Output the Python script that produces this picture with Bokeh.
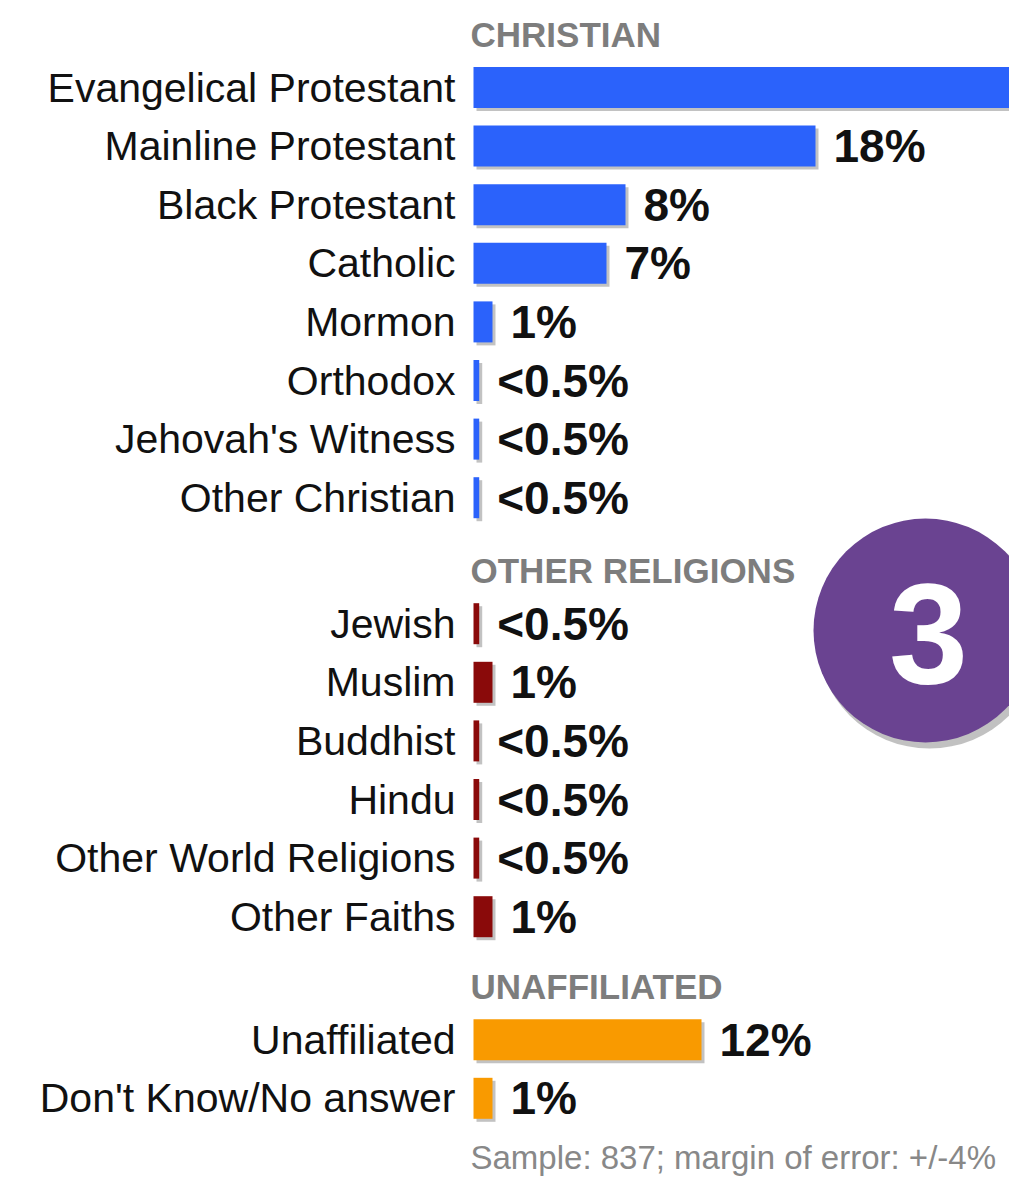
from bokeh.plotting import figure
from bokeh.models import Range1d, ColumnDataSource
from bokeh.core.properties import value
from bokeh.embed import file_html
from bokeh.resources import INLINE

# ---- data ----
christian_labels = ["Evangelical Protestant", "Mainline Protestant", "Black Protestant",
                    "Catholic", "Mormon", "Orthodox", "Jehovah's Witness", "Other Christian"]
christian_values = [50, 18, 8, 7, 1, 0.3, 0.3, 0.3]
# the first bar runs past the right edge; its label is not visible in the original
christian_text = ["", "18%", "8%", "7%", "1%", "<0.5%", "<0.5%", "<0.5%"]

other_labels = ["Jewish", "Muslim", "Buddhist", "Hindu", "Other World Religions", "Other Faiths"]
other_values = [0.3, 1, 0.3, 0.3, 0.3, 1]
other_text = ["<0.5%", "1%", "<0.5%", "<0.5%", "<0.5%", "1%"]

unaff_labels = ["Unaffiliated", "Don't Know/No answer"]
unaff_values = [12, 1]
unaff_text = ["12%", "1%"]

groups = [
    ("CHRISTIAN", christian_labels, christian_values, christian_text, "#2b62fb"),
    ("OTHER RELIGIONS", other_labels, other_values, other_text, "#8a0a0a"),
    ("UNAFFILIATED", unaff_labels, unaff_values, unaff_text, "#f99a00"),
]
footnote = "Sample: 837; margin of error: +/-4%"
badge_text = "3"

# ---- layout ----
W, H = 1009, 1179
PX = 19.0          # pixels per percent
X0 = 473           # pixel position of zero
ROW = 58.6
FONT = "Liberation Sans"

p = figure(width=W, height=H, output_backend="svg", toolbar_location=None,
           x_range=Range1d(-X0 / PX, (W - X0) / PX), y_range=Range1d(H, 0),
           min_border=0, outline_line_color=None)
p.axis.visible = False
p.grid.visible = False
p.background_fill_color = "white"
p.border_fill_color = "white"

header_y = 34
for gi, (title, labels, vals, texts, color) in enumerate(groups):
    p.text(x=[-3 / PX], y=[header_y], text=[title], text_font=value(FONT),
           text_font_style="bold", text_font_size="35px", text_color="#7d7d7d",
           text_baseline="middle", text_align="left")
    ys = [header_y + 53 + i * ROW for i in range(len(labels))]
    src = ColumnDataSource(dict(y=ys, v=vals, lab=labels, t=texts,
                                tx=[v + 18 / PX for v in vals]))
    shadow = ColumnDataSource(dict(y=[yy + 3 for yy in ys],
                                   r=[v + 3 / PX for v in vals]))
    p.hbar(y="y", left=3 / PX, right="r", height=41, source=shadow,
           fill_color="#777777", fill_alpha=0.45, line_color=None)
    p.hbar(y="y", left=0, right="v", height=41, source=src,
           fill_color=color, line_color=None)
    p.text(x=-18 / PX, y="y", text="lab", source=src, text_font=value(FONT),
           text_font_size="41px", text_color="#111111", text_align="right",
           text_baseline="middle")
    p.text(x="tx", y="y", text="t", source=src, text_font=value(FONT),
           text_font_style="bold", text_font_size="46px", text_color="#111111",
           text_align="left", text_baseline="middle")
    header_y = ys[-1] + 73 - (3 if gi == 1 else 0)

# footnote
p.text(x=[-3 / PX], y=[1157], text=[footnote], text_font=value(FONT),
       text_font_size="33px", text_color="#888888", text_baseline="middle",
       text_align="left")

# badge
bx, by = (925 - X0) / PX, 630
p.scatter(x=[bx + 4 / PX], y=[by + 5], size=226, marker="circle",
          fill_color="#333333", fill_alpha=0.3, line_color=None)
p.scatter(x=[bx], y=[by], size=224, marker="circle",
          fill_color="#6a4391", line_color=None)
p.text(x=[bx + 3 / PX], y=[by + 3], text=[badge_text], text_font=value(FONT),
       text_font_style="bold", text_font_size="142px", text_color="white",
       text_align="center", text_baseline="middle")

open("out.html", "w").write(file_html(p, INLINE))
